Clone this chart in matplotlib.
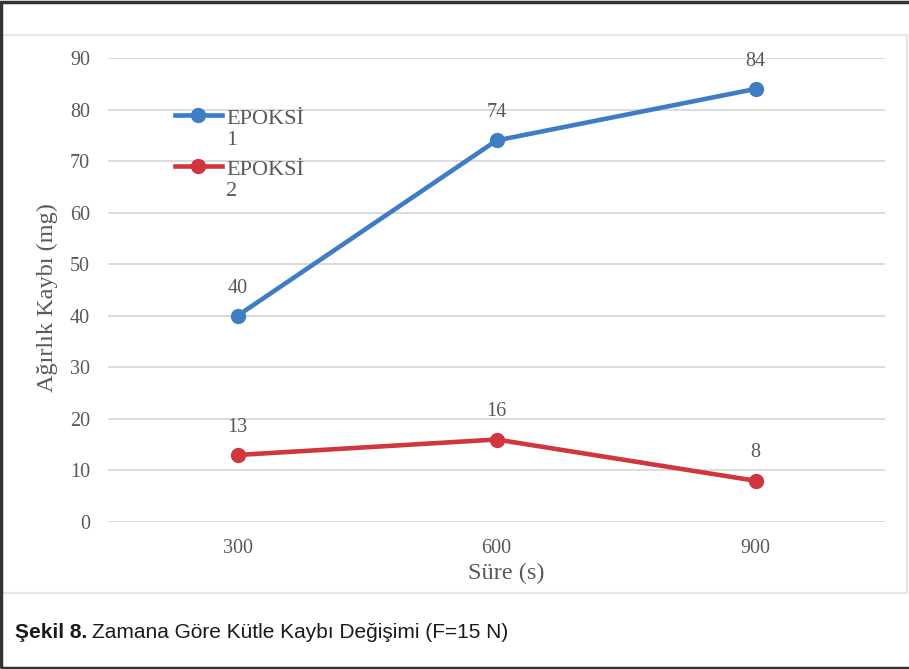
import matplotlib
matplotlib.use("Agg")
import matplotlib.pyplot as plt
from matplotlib.patches import Rectangle
from matplotlib.lines import Line2D
from matplotlib import font_manager

categories = ["300", "600", "900"]
epoksi1 = [40, 74, 84]
epoksi2 = [13, 16, 8]
series_names = ["EPOKSİ\n1", "EPOKSİ\n2"]
y_ticks = [0, 10, 20, 30, 40, 50, 60, 70, 80, 90]
caption_bold = "Şekil 8."
caption_text = "Zamana Göre Kütle Kaybı Değişimi (F=15 N)"

BLUE = "#3E7CC3"
RED = "#D1363F"
GRAY = "#595959"
SERIF = "Liberation Serif"

names = {f.name for f in font_manager.fontManager.ttflist}
if "Liberation Sans Narrow" in names:
    CAP_FONT, CAP_SIZE = "Liberation Sans Narrow", 18
else:
    CAP_FONT, CAP_SIZE = "Liberation Sans", 15

fig = plt.figure(figsize=(9.09, 6.69), dpi=100)
W, H = 909, 669
ax = fig.add_axes([108 / W, 1 - 522 / H, (885 - 108) / W, (522 - 58) / H])

x = list(range(len(categories)))
colors = [BLUE, RED]
for vals, c in zip([epoksi1, epoksi2], colors):
    ax.plot(x, vals, color=c, lw=3.3, marker="o", ms=10, zorder=3)
    for xi, v in zip(x, vals):
        ax.annotate(str(v), (xi, v), xytext=(0, 20), textcoords="offset points",
                    ha="center", va="center", fontsize=14.5, family=SERIF, color=GRAY)

ax.set_xlim(-0.5, 2.5)
ax.set_ylim(0, 90)
ax.set_yticks(y_ticks)
ax.set_xticks(x)
ax.set_xticklabels(categories)
ax.grid(axis="y", color="#D9D9D9", lw=1.3)
ax.set_axisbelow(True)
for s in ax.spines.values():
    s.set_visible(False)
ax.tick_params(length=0, labelsize=14.5, labelcolor=GRAY)
ax.tick_params(axis="y", pad=13)
ax.tick_params(axis="x", pad=12)
for lab in ax.get_xticklabels() + ax.get_yticklabels():
    lab.set_family(SERIF)

ax.set_ylabel("Ağırlık Kaybı (mg)", family=SERIF, fontsize=17.5, color=GRAY)
ax.yaxis.label.set_va("center")
ax.yaxis.set_label_coords((47 - 108) / 777, (522 - 298) / 464)
fig.text(506 / W, 1 - 573 / H, "Süre (s)", family=SERIF, fontsize=17.5, color=GRAY,
         ha="center", va="center")

# legend (handle aligned with first text line, as in the reference)
leg_y = [0.877, 0.767]
for yy, c, name in zip(leg_y, colors, series_names):
    ax.add_line(Line2D([0.0862, 0.1467], [yy, yy], transform=ax.transAxes, color=c,
                       lw=3.3, zorder=4, clip_on=False))
    ax.add_line(Line2D([0.1158], [yy], transform=ax.transAxes, color=c, marker="o",
                       ms=10, lw=0, zorder=5, clip_on=False))
    ax.text(0.1519, yy + 0.012, name, transform=ax.transAxes, family=SERIF, fontsize=16,
            color=GRAY, ha="left", va="top", linespacing=1.2)

# chart frame (light) and outer frame
fig.patches.append(Rectangle((2 / W, 1 - 593 / H), 905 / W, (593 - 35) / H,
                             transform=fig.transFigure, fill=False, ec="#E6E6E6", lw=1.5))
fig.patches.append(Rectangle((1 / W, 1 / H), 1.2, (H - 2.5) / H,
                             transform=fig.transFigure, fill=False, ec="#333333", lw=2.5))

t1 = fig.text(15 / W, 1 - 633 / H, caption_bold, family=CAP_FONT, fontweight="bold",
              fontsize=CAP_SIZE, color="#1a1a1a", va="center", ha="left")
r = fig.canvas.get_renderer()
bb = t1.get_window_extent(r)
fig.text((bb.x1 + 5) / W, 1 - 633 / H, caption_text, family=CAP_FONT,
         fontsize=CAP_SIZE, color="#1a1a1a", va="center", ha="left")

fig.savefig("out.png", dpi=100)
